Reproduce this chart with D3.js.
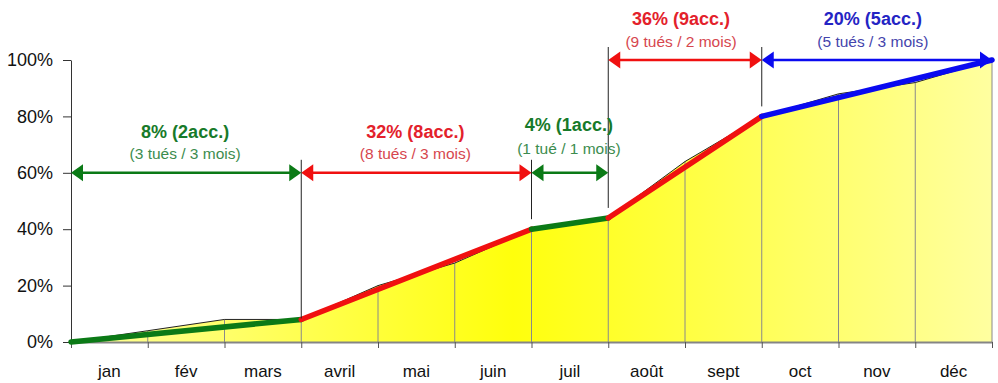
<!DOCTYPE html>
<html>
<head>
<meta charset="utf-8">
<script src="https://cdn.jsdelivr.net/npm/d3@7"></script>
<style>
  html, body { margin: 0; padding: 0; background: #fff; }
  svg { display: block; font-family: "Liberation Sans", Arial, sans-serif; }
</style>
</head>
<body>
<svg id="chart" width="998" height="383"></svg>
<script>
// Months of the year (one band per month)
const months = ["jan", "fév", "mars", "avril", "mai", "juin", "juil", "août", "sept", "oct", "nov", "déc"];
// Cumulative share of accidents (%) at each month boundary (start of jan .. end of déc)
const cumul = [0, 4, 8, 8, 20, 28, 40, 44, 64, 80, 88, 92, 100];
// Y-axis ticks (%)
const yTicks = [0, 20, 40, 60, 80, 100];

// Periods, as boundary indices
const periodStart = [0, 3, 6, 7, 9];
const periodEnd = [3, 6, 7, 9, 12];
const periodTitles = ["8% (2acc.)", "32% (8acc.)", "4% (1acc.)", "36% (9acc.)", "20% (5acc.)"];
const periodNotes = ["(3 tués / 3 mois)", "(8 tués / 3 mois)", "(1 tué / 1 mois)", "(9 tués / 2 mois)", "(5 tués / 3 mois)"];
// Level (%) on which each period's span arrow is drawn
const arrowLevel = [60, 60, 60, 100, 100];
const periodColor = ["#0b7a16", "#f01010", "#0b7a16", "#f01010", "#0a0af0"];
const titleColor = ["#177a2a", "#e3212b", "#177a2a", "#e3212b", "#2424c4"];
const noteColor = ["#3c8c4e", "#d6464e", "#3c8c4e", "#d6464e", "#4444ac"];

const svg = d3.select("#chart");
const x = d3.scaleLinear().domain([0, 12]).range([71, 992]);
const y = d3.scaleLinear().domain([0, 100]).range([342, 60]);

// Horizontal yellow gradient for the area
const defs = svg.append("defs");
const grad = defs.append("linearGradient").attr("id", "fillGrad")
  .attr("gradientUnits", "userSpaceOnUse")
  .attr("x1", x(0)).attr("x2", x(12)).attr("y1", 0).attr("y2", 0);
grad.append("stop").attr("offset", "0%").attr("stop-color", "#ffff9c");
grad.append("stop").attr("offset", "48%").attr("stop-color", "#ffff0c");
grad.append("stop").attr("offset", "100%").attr("stop-color", "#ffffa0");

const idx = d3.range(cumul.length);

// Area under the cumulative curve
svg.append("path")
  .datum(idx)
  .attr("fill", "url(#fillGrad)")
  .attr("d", d3.area().x(i => x(i)).y0(y(0)).y1(i => y(cumul[i])));

// Drop lines at each month boundary
svg.append("g").selectAll("line")
  .data(idx.filter(i => i > 0))
  .join("line")
  .attr("x1", i => x(i)).attr("x2", i => x(i))
  .attr("y1", i => y(cumul[i])).attr("y2", y(0))
  .attr("stroke", "#8a8a8a").attr("stroke-width", 1);

// Thin outline of the cumulative curve
svg.append("path")
  .datum(idx)
  .attr("fill", "none")
  .attr("stroke", "#222")
  .attr("stroke-width", 1)
  .attr("d", d3.line().x(i => x(i)).y(i => y(cumul[i])));

// X axis
const xAxis = d3.axisBottom(x).tickValues(d3.range(13)).tickFormat("").tickSize(6).tickSizeOuter(0);
const gx = svg.append("g").attr("transform", `translate(0,${y(0)})`).call(xAxis);
gx.select(".domain").attr("stroke", "#858585").attr("stroke-width", 2);
gx.selectAll(".tick line").attr("stroke", "#555");

// Month labels centred in each band
svg.append("g").selectAll("text")
  .data(months)
  .join("text")
  .attr("x", (d, i) => x(i + 0.5))
  .attr("y", 377)
  .attr("text-anchor", "middle")
  .attr("font-size", 17)
  .attr("fill", "#111")
  .text(d => d);

// Y axis
const yAxis = d3.axisLeft(y).tickValues(yTicks).tickFormat(d => d + "%").tickSize(8).tickSizeOuter(0).tickPadding(10);
const gy = svg.append("g").attr("transform", `translate(${x(0)},0)`).call(yAxis);
gy.select(".domain").attr("stroke", "#333");
gy.selectAll(".tick line").attr("stroke", "#333");
gy.selectAll(".tick text")
  .attr("font-size", 18)
  .attr("font-family", "Liberation Sans, Arial, sans-serif")
  .attr("fill", "#111");

// Thick straight segments per period
const periods = d3.range(periodStart.length);
svg.append("g").selectAll("line")
  .data(periods)
  .join("line")
  .attr("x1", p => x(periodStart[p])).attr("y1", p => y(cumul[periodStart[p]]))
  .attr("x2", p => x(periodEnd[p])).attr("y2", p => y(cumul[periodEnd[p]]))
  .attr("stroke", p => periodColor[p])
  .attr("stroke-width", 5.5)
  .attr("stroke-linecap", "round");

// Separator lines at period boundaries
const separators = [3, 6, 7, 9];
const sepTop = b => {
  const lv = Math.max(...periods.filter(p => periodStart[p] === b || periodEnd[p] === b).map(p => arrowLevel[p]));
  return y(lv) - 13;
};
svg.append("g").selectAll("line")
  .data(separators)
  .join("line")
  .attr("x1", b => x(b)).attr("x2", b => x(b))
  .attr("y1", sepTop)
  .attr("y2", b => y(cumul[b]) - (b === 3 ? 1 : 10))
  .attr("stroke", "#222").attr("stroke-width", 1);

// Double-headed span arrows
const head = 12, half = 8.5;
const ag = svg.append("g");
periods.forEach(p => {
  const x0 = x(periodStart[p]), x1 = x(periodEnd[p]), yy = y(arrowLevel[p]);
  const c = periodColor[p];
  ag.append("line")
    .attr("x1", x0 + head - 1).attr("x2", x1 - head + 1)
    .attr("y1", yy).attr("y2", yy)
    .attr("stroke", c).attr("stroke-width", 2.5);
  ag.append("path")
    .attr("d", `M${x0},${yy}L${x0 + head},${yy - half}L${x0 + head},${yy + half}Z`)
    .attr("fill", c);
  ag.append("path")
    .attr("d", `M${x1},${yy}L${x1 - head},${yy - half}L${x1 - head},${yy + half}Z`)
    .attr("fill", c);
});

// Period labels
const titleOffset = [35, 35, 42, 35, 35];
const noteOffset = [14, 14, 19, 13, 13];
periods.forEach(p => {
  const cx = (x(periodStart[p]) + x(periodEnd[p])) / 2 - (p >= 3 ? 4 : 1);
  const yy = y(arrowLevel[p]);
  svg.append("text")
    .attr("x", cx).attr("y", yy - titleOffset[p])
    .attr("text-anchor", "middle")
    .attr("font-size", 18).attr("font-weight", "bold")
    .attr("fill", titleColor[p])
    .text(periodTitles[p]);
  svg.append("text")
    .attr("x", cx).attr("y", yy - noteOffset[p])
    .attr("text-anchor", "middle")
    .attr("font-size", 15.5)
    .attr("fill", noteColor[p])
    .text(periodNotes[p]);
});
</script>
</body>
</html>
